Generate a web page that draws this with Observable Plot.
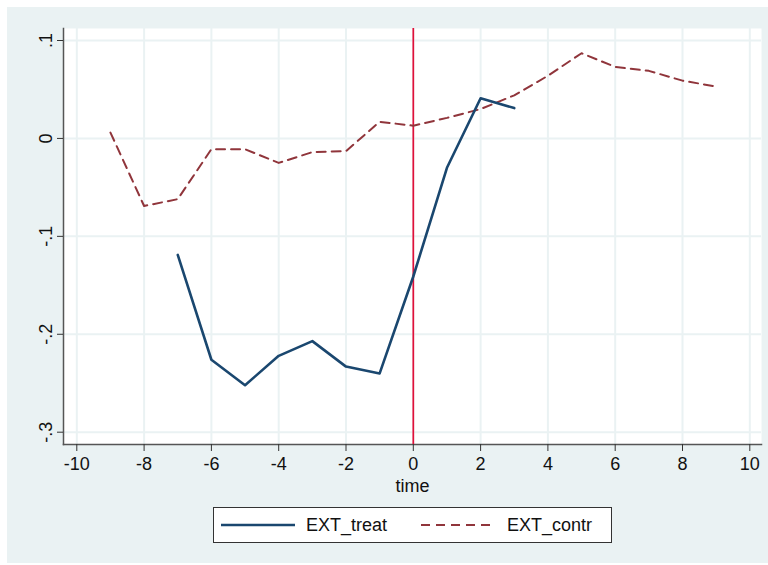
<!DOCTYPE html>
<html>
<head>
<meta charset="utf-8">
<script src="https://cdn.jsdelivr.net/npm/d3@7"></script>
<script src="https://cdn.jsdelivr.net/npm/@observablehq/plot@0.6"></script>
<style>
  html, body { margin: 0; padding: 0; background: #ffffff; }
  #panel {
    position: absolute; left: 7px; top: 7px; width: 761px; height: 556px;
    background: #eaf2f3; font-family: "Liberation Sans", Arial, sans-serif;
  }
  #chart svg { display: block; }
  #legend {
    position: absolute; left: 206px; top: 500px; width: 397px; height: 34px;
    background: #ffffff; border: 1px solid #333333;
    display: flex; align-items: center; font-size: 18px; color: #111;
  }
  #legend .item { display: flex; align-items: center; }
  #legend svg { display: block; }
</style>
</head>
<body>
<div id="panel">
  <div id="chart"></div>
  <div id="legend"></div>
</div>
<script>
// Event time relative to treatment
const timeTreat = [-7, -6, -5, -4, -3, -2, -1, 0, 1, 2, 3];
const extTreat = [-0.119, -0.226, -0.252, -0.222, -0.207, -0.233, -0.240, -0.141, -0.030, 0.041, 0.031];

const timeContr = [-9, -8, -7, -6, -5, -4, -3, -2, -1, 0, 1, 2, 3, 4, 5, 6, 7, 8, 9];
const extContr = [0.006, -0.069, -0.062, -0.011, -0.011, -0.025, -0.014, -0.013, 0.017, 0.013, 0.021, 0.030, 0.044, 0.064, 0.087, 0.073, 0.069, 0.059, 0.053];

const xTicks = [-10, -8, -6, -4, -2, 0, 2, 4, 6, 8, 10];
const yTicks = [-0.3, -0.2, -0.1, 0, 0.1];
const eventTime = [0];

const seriesNames = ["EXT_treat", "EXT_contr"];
const seriesColors = ["#1a476f", "#90353b"];

const treatRows = timeTreat.map((t, i) => ({time: t, value: extTreat[i]}));
const contrRows = timeContr.map((t, i) => ({time: t, value: extContr[i]}));

// Plain hyphen minus signs; decimals written without the leading zero (.1, -.2)
const fmtX = d => String(d);
const fmtY = d => {
  if (d === 0) return "0";
  const s = Math.abs(d).toFixed(1).replace(/^0/, "");
  return (d < 0 ? "-" : "") + s;
};

const chart = Plot.plot({
  width: 761,
  height: 490,
  marginLeft: 56,
  marginRight: 7,
  marginTop: 21,
  marginBottom: 53,
  insetLeft: 13.3,
  insetRight: 11.7,
  insetTop: 12,
  insetBottom: 12.3,
  style: {background: "transparent", fontFamily: "Liberation Sans, Arial, sans-serif", fontSize: "18px", color: "#111"},
  x: {domain: [-10, 10]},
  y: {domain: [-0.3, 0.1]},
  marks: [
    Plot.frame({fill: "white", stroke: null}),
    Plot.gridX(xTicks, {stroke: "#eaf2f3", strokeOpacity: 1, strokeWidth: 2}),
    Plot.gridY(yTicks, {stroke: "#eaf2f3", strokeOpacity: 1, strokeWidth: 2}),
    Plot.frame({anchor: "left", stroke: "#555555", strokeWidth: 1.5}),
    Plot.frame({anchor: "bottom", stroke: "#555555", strokeWidth: 1.5}),
    Plot.axisX(xTicks, {tickSize: 7, tickPadding: 6, tickFormat: fmtX, fontSize: 18, stroke: "#333", label: null}),
    Plot.axisY(yTicks, {tickSize: 6, tickPadding: 6, tickRotate: -90, tickFormat: fmtY, fontSize: 18, stroke: "#333", label: null}),
    Plot.text(["time"], {frameAnchor: "bottom", dy: 42, lineAnchor: "middle", fontSize: 18, fill: "#111"}),
    Plot.ruleX(eventTime, {stroke: "#e0103a", strokeWidth: 1.7}),
    Plot.line(contrRows, {x: "time", y: "value", stroke: seriesColors[1], strokeWidth: 2, strokeDasharray: "9,6"}),
    Plot.line(treatRows, {x: "time", y: "value", stroke: seriesColors[0], strokeWidth: 2.6})
  ]
});
document.getElementById("chart").appendChild(chart);

// Legend: solid sample for the treated series, dashed for the control series
const legend = d3.select("#legend");
const items = [
  {name: seriesNames[0], color: seriesColors[0], dash: null, width: 2.6, pad: 7, gap: 11, after: 34},
  {name: seriesNames[1], color: seriesColors[1], dash: "9,6", width: 2, pad: 0, gap: 12, after: 0}
];
items.forEach(it => {
  const div = legend.append("div").attr("class", "item").style("margin-left", it.pad + "px").style("margin-right", it.after + "px");
  const s = div.append("svg").attr("width", 74).attr("height", 10);
  s.append("line").attr("x1", 0).attr("x2", 74).attr("y1", 5).attr("y2", 5)
    .attr("stroke", it.color).attr("stroke-width", it.width)
    .attr("stroke-dasharray", it.dash);
  div.append("span").style("margin-left", it.gap + "px").text(it.name);
});
</script>
</body>
</html>
